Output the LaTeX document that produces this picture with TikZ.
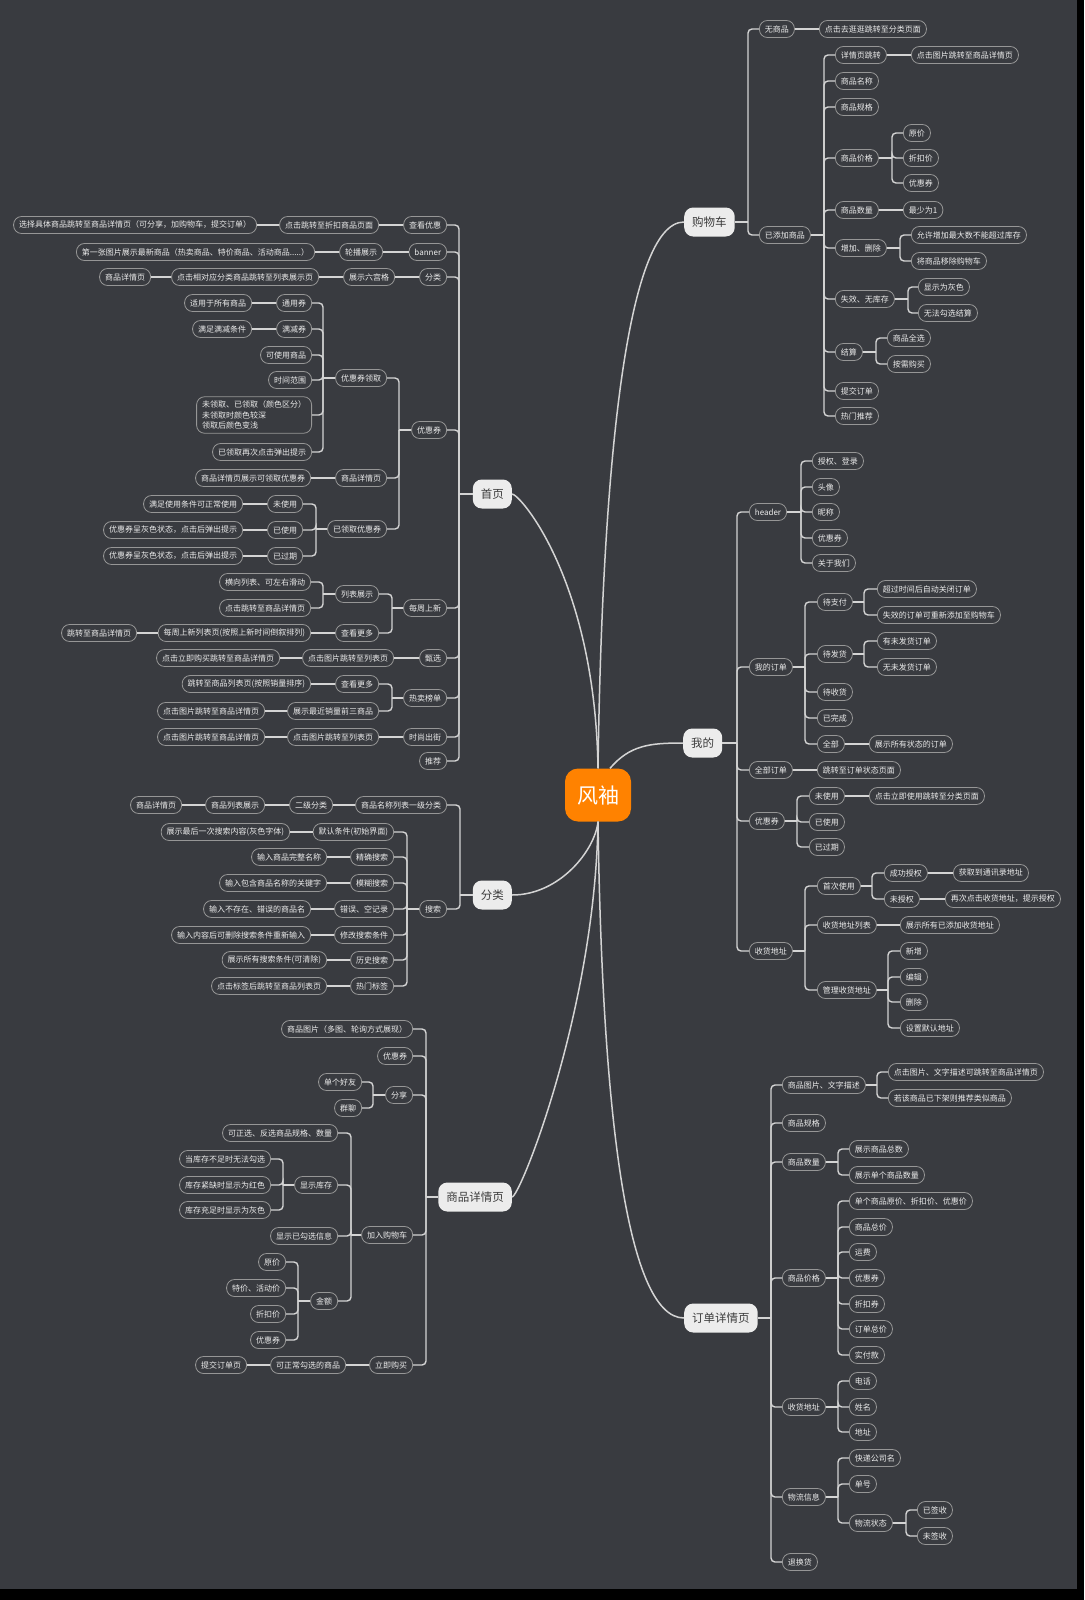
\documentclass[tikz,border=0pt]{standalone}
\usepackage{fontspec}
\setmainfont{Noto Sans CJK SC}
\usetikzlibrary{positioning, calc}

\definecolor{bgdark}{RGB}{57,59,64}
\definecolor{linegray}{RGB}{212,212,212}
\definecolor{leafedge}{RGB}{150,150,150}
\definecolor{leaftext}{RGB}{236,236,236}
\definecolor{topicfill}{RGB}{236,236,236}
\definecolor{topictext}{RGB}{60,60,60}
\definecolor{rootfill}{RGB}{255,130,0}

\begin{document}
\begin{tikzpicture}[x=1pt, y=-1pt,
    leaf/.style={draw=leafedge, line width=0.8pt, rounded corners=8pt, text=leaftext,
        font=\fontsize{8}{10.5}\selectfont, inner xsep=5.5pt, inner ysep=0pt, minimum height=17pt},
    lft/.style={leaf, anchor=east},
    rgt/.style={leaf, anchor=west},
    topic/.style={fill=topicfill, text=topictext, rounded corners=9pt,
        font=\fontsize{11.5}{13}\selectfont, inner xsep=8pt, minimum height=29pt},
    root/.style={fill=rootfill, text=white, rounded corners=13pt,
        font=\fontsize{21}{24}\selectfont, minimum width=66pt, minimum height=53pt},
    link/.style={draw=linegray, line width=1.4pt, rounded corners=4pt},
    trunk/.style={draw=linegray, line width=1.5pt}]

    % Background and frame
    \useasboundingbox (0,0) rectangle (1084,1600);
    \fill[bgdark] (0,0) rectangle (1077,1589);
    \fill[black] (1077,0) rectangle (1084,1600);
    \fill[black] (0,1589) rectangle (1084,1600);

    % Root and main topics
    \node[root] (root) at (598,795) {风袖};
    \node[topic, anchor=east] (home) at (512,494) {首页};
    \node[topic, anchor=east] (cat) at (512,895) {分类};
    \node[topic, anchor=east] (gd) at (512,1197) {商品详情页};
    \node[topic, anchor=west] (cart) at (684,222) {购物车};
    \node[topic, anchor=west] (mine) at (683,743) {我的};
    \node[topic, anchor=west] (order) at (684,1318) {订单详情页};

    \draw[trunk] (root.north) .. controls (595,580) and (520,494) .. (home.east);
    \draw[trunk] (root.north) .. controls (602,480) and (625,222) .. (cart.west);
    \draw[trunk] ([xshift=12pt]root.north) .. controls (630,745) and (650,743) .. (mine.west);
    \draw[trunk] (root.south) .. controls (595,850) and (560,895) .. (cat.east);
    \draw[trunk] (root.south) .. controls (595,1010) and (520,1197) .. (gd.east);
    \draw[trunk] (root.south) .. controls (602,1100) and (625,1318) .. (order.west);

    % ---- 首页
    \node[lft] (hm1) at (447,225) {查看优惠};
    \node[lft] (hm1a) at (379,225) {点击跳转至折扣商品页面};
    \node[lft] (hm1b) at (257,225) {选择具体商品跳转至商品详情页（可分享，加购物车，提交订单）};
    \node[lft] (hm2) at (447,252) {banner};
    \node[lft] (hm2a) at (383,252) {轮播展示};
    \node[lft] (hm2b) at (315,252) {第一张图片展示最新商品（热卖商品、特价商品、活动商品.....）};
    \node[lft] (hm3) at (447,277) {分类};
    \node[lft] (hm3a) at (395,277) {展示六宫格};
    \node[lft] (hm3b) at (319,277) {点击相对应分类商品跳转至列表展示页};
    \node[lft] (hm3c) at (151,277) {商品详情页};
    \node[lft] (hm4) at (447,430) {优惠券};
    \node[lft] (cp1) at (387,378) {优惠券领取};
    \node[lft] (cp2) at (387,478) {商品详情页};
    \node[lft] (cp3) at (387,529) {已领取优惠券};
    \node[lft] (cq1) at (312,303) {通用券};
    \node[lft] (cq1a) at (252,303) {适用于所有商品};
    \node[lft] (cq2) at (312,329) {满减券};
    \node[lft] (cq2a) at (252,329) {满足满减条件};
    \node[lft] (cq3) at (312,355) {可使用商品};
    \node[lft] (cq4) at (312,380) {时间范围};
    \node[lft, align=left, inner ysep=4pt] (cq5) at (312,415) {未领取、已领取（颜色区分）\\未领取时颜色较深\\领取后颜色变浅};
    \node[lft] (cq6) at (312,452) {已领取再次点击弹出提示};
    \node[lft] (cp2a) at (311,478) {商品详情页展示可领取优惠券};
    \node[lft] (cu1) at (303,504) {未使用};
    \node[lft] (cu1a) at (243,504) {满足使用条件可正常使用};
    \node[lft] (cu2) at (303,530) {已使用};
    \node[lft] (cu2a) at (243,530) {优惠券呈灰色状态，点击后弹出提示};
    \node[lft] (cu3) at (303,556) {已过期};
    \node[lft] (cu3a) at (243,556) {优惠券呈灰色状态，点击后弹出提示};
    \node[lft] (hm5) at (447,608) {每周上新};
    \node[lft] (wk1) at (379,594) {列表展示};
    \node[lft] (wk1a) at (311,582) {横向列表、可左右滑动};
    \node[lft] (wk1b) at (311,608) {点击跳转至商品详情页};
    \node[lft] (wk2) at (379,633) {查看更多};
    \node[lft] (wk2a) at (311,633) {每周上新列表页(按照上新时间倒叙排列)};
    \node[lft] (wk2b) at (137,633) {跳转至商品详情页};
    \node[lft] (hm6) at (447,658) {甄选};
    \node[lft] (hm6a) at (394,658) {点击图片跳转至列表页};
    \node[lft] (hm6b) at (280,658) {点击立即购买跳转至商品详情页};
    \node[lft] (hm7) at (447,698) {热卖榜单};
    \node[lft] (hs1) at (379,684) {查看更多};
    \node[lft] (hs1a) at (311,684) {跳转至商品列表页(按照销量排序)};
    \node[lft] (hs2) at (379,711) {展示最近销量前三商品};
    \node[lft] (hs2a) at (265,711) {点击图片跳转至商品详情页};
    \node[lft] (hm8) at (447,737) {时尚出街};
    \node[lft] (hm8a) at (379,737) {点击图片跳转至列表页};
    \node[lft] (hm8b) at (265,737) {点击图片跳转至商品详情页};
    \node[lft] (hm9) at (447,761) {推荐};

    \coordinate (homej) at (459,494);
    \draw[link] (home.west) -- (homej);
    \foreach \x in {1,...,9} \draw[link] (homej) |- (hm\x.east);
    \draw[link] (hm1.west) -- (hm1a.east);
    \draw[link] (hm1a.west) -- (hm1b.east);
    \draw[link] (hm2.west) -- (hm2a.east);
    \draw[link] (hm2a.west) -- (hm2b.east);
    \draw[link] (hm3.west) -- (hm3a.east);
    \draw[link] (hm3a.west) -- (hm3b.east);
    \draw[link] (hm3b.west) -- (hm3c.east);
    \coordinate (hm4j) at (399,430);
    \draw[link] (hm4.west) -- (hm4j);
    \foreach \x in {1,2,3} \draw[link] (hm4j) |- (cp\x.east);
    \coordinate (cp1j) at (323,378);
    \draw[link] (cp1.west) -- (cp1j);
    \foreach \x in {1,...,6} \draw[link] (cp1j) |- (cq\x.east);
    \draw[link] (cq1.west) -- (cq1a.east);
    \draw[link] (cq2.west) -- (cq2a.east);
    \draw[link] (cp2.west) -- (cp2a.east);
    \coordinate (cp3j) at (316,529);
    \draw[link] (cp3.west) -- (cp3j);
    \foreach \x in {1,2,3} {
        \draw[link] (cp3j) |- (cu\x.east);
        \draw[link] (cu\x.west) -- (cu\x a.east);
    }
    \coordinate (hm5j) at (392,608);
    \draw[link] (hm5.west) -- (hm5j);
    \foreach \x in {1,2} \draw[link] (hm5j) |- (wk\x.east);
    \coordinate (wk1j) at (323,594);
    \draw[link] (wk1.west) -- (wk1j);
    \draw[link] (wk1j) |- (wk1a.east);
    \draw[link] (wk1j) |- (wk1b.east);
    \draw[link] (wk2.west) -- (wk2a.east);
    \draw[link] (wk2a.west) -- (wk2b.east);
    \draw[link] (hm6.west) -- (hm6a.east);
    \draw[link] (hm6a.west) -- (hm6b.east);
    \coordinate (hm7j) at (392,698);
    \draw[link] (hm7.west) -- (hm7j);
    \foreach \x in {1,2} {
        \draw[link] (hm7j) |- (hs\x.east);
        \draw[link] (hs\x.west) -- (hs\x a.east);
    }
    \draw[link] (hm8.west) -- (hm8a.east);
    \draw[link] (hm8a.west) -- (hm8b.east);

    % ---- 分类
    \node[lft] (ct1) at (447,805) {商品名称列表一级分类};
    \node[lft] (ct1a) at (333,805) {二级分类};
    \node[lft] (ct1b) at (265,805) {商品列表展示};
    \node[lft] (ct1c) at (182,805) {商品详情页};
    \node[lft] (ct2) at (447,909) {搜索};
    \node[lft] (sr1) at (394,832) {默认条件(初始界面)};
    \node[lft] (sr1a) at (290,832) {展示最后一次搜索内容(灰色字体)};
    \node[lft] (sr2) at (394,857) {精确搜索};
    \node[lft] (sr2a) at (327,857) {输入商品完整名称};
    \node[lft] (sr3) at (394,883) {模糊搜索};
    \node[lft] (sr3a) at (327,883) {输入包含商品名称的关键字};
    \node[lft] (sr4) at (394,909) {错误、空记录};
    \node[lft] (sr4a) at (311,909) {输入不存在、错误的商品名};
    \node[lft] (sr5) at (394,935) {修改搜索条件};
    \node[lft] (sr5a) at (311,935) {输入内容后可删除搜索条件重新输入};
    \node[lft] (sr6) at (394,960) {历史搜索};
    \node[lft] (sr6a) at (327,960) {展示所有搜索条件(可清除)};
    \node[lft] (sr7) at (394,986) {热门标签};
    \node[lft] (sr7a) at (327,986) {点击标签后跳转至商品列表页};

    \coordinate (catj) at (460,895);
    \draw[link] (cat.west) -- (catj);
    \foreach \x in {1,2} \draw[link] (catj) |- (ct\x.east);
    \draw[link] (ct1.west) -- (ct1a.east);
    \draw[link] (ct1a.west) -- (ct1b.east);
    \draw[link] (ct1b.west) -- (ct1c.east);
    \coordinate (ct2j) at (407,909);
    \draw[link] (ct2.west) -- (ct2j);
    \foreach \x in {1,...,7} {
        \draw[link] (ct2j) |- (sr\x.east);
        \draw[link] (sr\x.west) -- (sr\x a.east);
    }

    % ---- 商品详情页
    \node[lft] (gd1) at (413,1029) {商品图片（多图、轮询方式展现）};
    \node[lft] (gd2) at (413,1056) {优惠券};
    \node[lft] (gd3) at (413,1095) {分享};
    \node[lft] (gd3a) at (362,1082) {单个好友};
    \node[lft] (gd3b) at (362,1108) {群聊};
    \node[lft] (gd4) at (413,1235) {加入购物车};
    \node[lft] (ad1) at (338,1133) {可正选、反选商品规格、数量};
    \node[lft] (ad2) at (338,1185) {显示库存};
    \node[lft] (ad2a) at (271,1159) {当库存不足时无法勾选};
    \node[lft] (ad2b) at (271,1185) {库存紧缺时显示为红色};
    \node[lft] (ad2c) at (271,1210) {库存充足时显示为灰色};
    \node[lft] (ad3) at (338,1236) {显示已勾选信息};
    \node[lft] (ad4) at (338,1301) {金额};
    \node[lft] (pr1) at (286,1262) {原价};
    \node[lft] (pr2) at (286,1288) {特价、活动价};
    \node[lft] (pr3) at (286,1314) {折扣价};
    \node[lft] (pr4) at (286,1340) {优惠券};
    \node[lft] (gd5) at (413,1365) {立即购买};
    \node[lft] (gd5a) at (346,1365) {可正常勾选的商品};
    \node[lft] (gd5b) at (247,1365) {提交订单页};

    \coordinate (gdj) at (426,1197);
    \draw[link] (gd.west) -- (gdj);
    \foreach \x in {1,...,5} \draw[link] (gdj) |- (gd\x.east);
    \coordinate (gd3j) at (373,1095);
    \draw[link] (gd3.west) -- (gd3j);
    \draw[link] (gd3j) |- (gd3a.east);
    \draw[link] (gd3j) |- (gd3b.east);
    \coordinate (gd4j) at (351,1235);
    \draw[link] (gd4.west) -- (gd4j);
    \foreach \x in {1,...,4} \draw[link] (gd4j) |- (ad\x.east);
    \coordinate (ad2j) at (283,1185);
    \draw[link] (ad2.west) -- (ad2j);
    \foreach \x in {a,b,c} \draw[link] (ad2j) |- (ad2\x.east);
    \coordinate (ad4j) at (298,1301);
    \draw[link] (ad4.west) -- (ad4j);
    \foreach \x in {1,...,4} \draw[link] (ad4j) |- (pr\x.east);
    \draw[link] (gd5.west) -- (gd5a.east);
    \draw[link] (gd5a.west) -- (gd5b.east);

    % ---- 购物车
    \node[rgt] (ca1) at (759,29) {无商品};
    \node[rgt] (ca1a) at (819,29) {点击去逛逛跳转至分类页面};
    \node[rgt] (ca2) at (759,235) {已添加商品};
    \node[rgt] (gs1) at (835,55) {详情页跳转};
    \node[rgt] (gs1a) at (911,55) {点击图片跳转至商品详情页};
    \node[rgt] (gs2) at (835,81) {商品名称};
    \node[rgt] (gs3) at (835,107) {商品规格};
    \node[rgt] (gs4) at (835,158) {商品价格};
    \node[rgt] (gs4a) at (903,133) {原价};
    \node[rgt] (gs4b) at (903,158) {折扣价};
    \node[rgt] (gs4c) at (903,183) {优惠券};
    \node[rgt] (gs5) at (835,210) {商品数量};
    \node[rgt] (gs5a) at (903,210) {最少为1};
    \node[rgt] (gs6) at (835,248) {增加、删除};
    \node[rgt] (gs6a) at (911,235) {允许增加最大数不能超过库存};
    \node[rgt] (gs6b) at (911,261) {将商品移除购物车};
    \node[rgt] (gs7) at (835,299) {失效、无库存};
    \node[rgt] (gs7a) at (918,287) {显示为灰色};
    \node[rgt] (gs7b) at (918,313) {无法勾选结算};
    \node[rgt] (gs8) at (835,352) {结算};
    \node[rgt] (gs8a) at (887,338) {商品全选};
    \node[rgt] (gs8b) at (887,364) {按需购买};
    \node[rgt] (gs9) at (835,391) {提交订单};
    \node[rgt] (gs10) at (835,416) {热门推荐};

    \coordinate (cartj) at (748,222);
    \draw[link] (cart.east) -- (cartj);
    \foreach \x in {1,2} \draw[link] (cartj) |- (ca\x.west);
    \draw[link] (ca1.east) -- (ca1a.west);
    \coordinate (ca2j) at (824,235);
    \draw[link] (ca2.east) -- (ca2j);
    \foreach \x in {1,...,10} \draw[link] (ca2j) |- (gs\x.west);
    \draw[link] (gs1.east) -- (gs1a.west);
    \coordinate (gs4j) at (892,158);
    \draw[link] (gs4.east) -- (gs4j);
    \foreach \x in {a,b,c} \draw[link] (gs4j) |- (gs4\x.west);
    \draw[link] (gs5.east) -- (gs5a.west);
    \coordinate (gs6j) at (900,248);
    \coordinate (gs7j) at (908,299);
    \coordinate (gs8j) at (876,352);
    \foreach \x in {6,7,8} {
        \draw[link] (gs\x.east) -- (gs\x j);
        \draw[link] (gs\x j) |- (gs\x a.west);
        \draw[link] (gs\x j) |- (gs\x b.west);
    }

    % ---- 我的
    \node[rgt] (me1) at (749,512) {header};
    \node[rgt] (hd1) at (812,461) {授权、登录};
    \node[rgt] (hd2) at (812,487) {头像};
    \node[rgt] (hd3) at (812,512) {昵称};
    \node[rgt] (hd4) at (812,538) {优惠券};
    \node[rgt] (hd5) at (812,563) {关于我们};
    \node[rgt] (me2) at (749,667) {我的订单};
    \node[rgt] (od1) at (817,602) {待支付};
    \node[rgt] (od1a) at (877,589) {超过时间后自动关闭订单};
    \node[rgt] (od1b) at (877,615) {失效的订单可重新添加至购物车};
    \node[rgt] (od2) at (817,654) {待发货};
    \node[rgt] (od2a) at (877,641) {有未发货订单};
    \node[rgt] (od2b) at (877,667) {无未发货订单};
    \node[rgt] (od3) at (817,692) {待收货};
    \node[rgt] (od4) at (817,718) {已完成};
    \node[rgt] (od5) at (817,744) {全部};
    \node[rgt] (od5a) at (869,744) {展示所有状态的订单};
    \node[rgt] (me3) at (749,770) {全部订单};
    \node[rgt] (me3a) at (817,770) {跳转至订单状态页面};
    \node[rgt] (me4) at (749,821) {优惠券};
    \node[rgt] (mc1) at (809,796) {未使用};
    \node[rgt] (mc1a) at (869,796) {点击立即使用跳转至分类页面};
    \node[rgt] (mc2) at (809,822) {已使用};
    \node[rgt] (mc3) at (809,847) {已过期};
    \node[rgt] (me5) at (749,951) {收货地址};
    \node[rgt] (ma1) at (817,886) {首次使用};
    \node[rgt] (ma1a) at (884,873) {成功授权};
    \node[rgt] (ma1b) at (953,873) {获取到通讯录地址};
    \node[rgt] (ma1c) at (884,899) {未授权};
    \node[rgt] (ma1d) at (945,899) {再次点击收货地址，提示授权};
    \node[rgt] (ma2) at (817,925) {收货地址列表};
    \node[rgt] (ma2a) at (900,925) {展示所有已添加收货地址};
    \node[rgt] (ma3) at (817,990) {管理收货地址};
    \node[rgt] (ma3a) at (900,951) {新增};
    \node[rgt] (ma3b) at (900,977) {编辑};
    \node[rgt] (ma3c) at (900,1002) {删除};
    \node[rgt] (ma3d) at (900,1028) {设置默认地址};

    \coordinate (minej) at (737,743);
    \draw[link] (mine.east) -- (minej);
    \foreach \x in {1,...,5} \draw[link] (minej) |- (me\x.west);
    \coordinate (me1j) at (801,512);
    \draw[link] (me1.east) -- (me1j);
    \foreach \x in {1,...,5} \draw[link] (me1j) |- (hd\x.west);
    \coordinate (me2j) at (805,667);
    \draw[link] (me2.east) -- (me2j);
    \foreach \x in {1,...,5} \draw[link] (me2j) |- (od\x.west);
    \coordinate (od1j) at (864,602);
    \coordinate (od2j) at (864,654);
    \foreach \x in {1,2} {
        \draw[link] (od\x.east) -- (od\x j);
        \draw[link] (od\x j) |- (od\x a.west);
        \draw[link] (od\x j) |- (od\x b.west);
    }
    \draw[link] (od5.east) -- (od5a.west);
    \draw[link] (me3.east) -- (me3a.west);
    \coordinate (me4j) at (797,821);
    \draw[link] (me4.east) -- (me4j);
    \foreach \x in {1,2,3} \draw[link] (me4j) |- (mc\x.west);
    \draw[link] (mc1.east) -- (mc1a.west);
    \coordinate (me5j) at (805,951);
    \draw[link] (me5.east) -- (me5j);
    \foreach \x in {1,2,3} \draw[link] (me5j) |- (ma\x.west);
    \coordinate (ma1j) at (872,886);
    \draw[link] (ma1.east) -- (ma1j);
    \draw[link] (ma1j) |- (ma1a.west);
    \draw[link] (ma1j) |- (ma1c.west);
    \draw[link] (ma1a.east) -- (ma1b.west);
    \draw[link] (ma1c.east) -- (ma1d.west);
    \draw[link] (ma2.east) -- (ma2a.west);
    \coordinate (ma3j) at (888,990);
    \draw[link] (ma3.east) -- (ma3j);
    \foreach \x in {a,b,c,d} \draw[link] (ma3j) |- (ma3\x.west);

    % ---- 订单详情页
    \node[rgt] (or1) at (782,1085) {商品图片、文字描述};
    \node[rgt] (or1a) at (888,1072) {点击图片、文字描述可跳转至商品详情页};
    \node[rgt] (or1b) at (888,1098) {若该商品已下架则推荐类似商品};
    \node[rgt] (or2) at (782,1123) {商品规格};
    \node[rgt] (or3) at (782,1162) {商品数量};
    \node[rgt] (or3a) at (849,1149) {展示商品总数};
    \node[rgt] (or3b) at (849,1175) {展示单个商品数量};
    \node[rgt] (or4) at (782,1278) {商品价格};
    \node[rgt] (op1) at (849,1201) {单个商品原价、折扣价、优惠价};
    \node[rgt] (op2) at (849,1227) {商品总价};
    \node[rgt] (op3) at (849,1252) {运费};
    \node[rgt] (op4) at (849,1278) {优惠券};
    \node[rgt] (op5) at (849,1304) {折扣券};
    \node[rgt] (op6) at (849,1329) {订单总价};
    \node[rgt] (op7) at (849,1355) {实付款};
    \node[rgt] (or5) at (782,1407) {收货地址};
    \node[rgt] (oa1) at (849,1381) {电话};
    \node[rgt] (oa2) at (849,1407) {姓名};
    \node[rgt] (oa3) at (849,1432) {地址};
    \node[rgt] (or6) at (782,1497) {物流信息};
    \node[rgt] (ol1) at (849,1458) {快递公司名};
    \node[rgt] (ol2) at (849,1484) {单号};
    \node[rgt] (ol3) at (849,1523) {物流状态};
    \node[rgt] (ol3a) at (917,1510) {已签收};
    \node[rgt] (ol3b) at (917,1536) {未签收};
    \node[rgt] (or7) at (782,1562) {退换货};

    \coordinate (orderj) at (771,1318);
    \draw[link] (order.east) -- (orderj);
    \foreach \x in {1,...,7} \draw[link] (orderj) |- (or\x.west);
    \coordinate (or1j) at (877,1085);
    \draw[link] (or1.east) -- (or1j);
    \draw[link] (or1j) |- (or1a.west);
    \draw[link] (or1j) |- (or1b.west);
    \coordinate (or3j) at (838,1162);
    \draw[link] (or3.east) -- (or3j);
    \draw[link] (or3j) |- (or3a.west);
    \draw[link] (or3j) |- (or3b.west);
    \coordinate (or4j) at (838,1278);
    \draw[link] (or4.east) -- (or4j);
    \foreach \x in {1,...,7} \draw[link] (or4j) |- (op\x.west);
    \coordinate (or5j) at (838,1407);
    \draw[link] (or5.east) -- (or5j);
    \foreach \x in {1,2,3} \draw[link] (or5j) |- (oa\x.west);
    \coordinate (or6j) at (838,1497);
    \draw[link] (or6.east) -- (or6j);
    \foreach \x in {1,2,3} \draw[link] (or6j) |- (ol\x.west);
    \coordinate (ol3j) at (906,1523);
    \draw[link] (ol3.east) -- (ol3j);
    \draw[link] (ol3j) |- (ol3a.west);
    \draw[link] (ol3j) |- (ol3b.west);
\end{tikzpicture}
\end{document}
